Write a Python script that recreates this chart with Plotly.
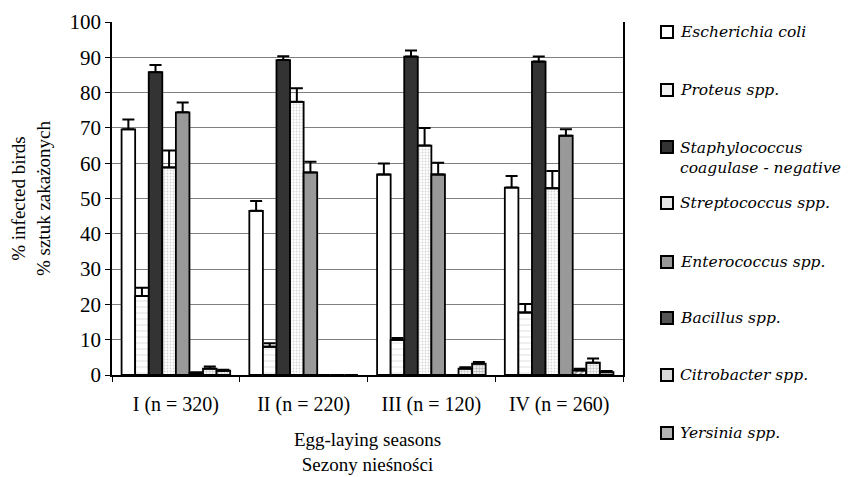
import plotly.graph_objects as go

seasons = ["I (n = 320)", "II (n = 220)", "III (n = 120)", "IV (n = 260)"]

species = [
    "Escherichia coli",
    "Proteus spp.",
    "Staphylococcus<br>coagulase - negative",
    "Streptococcus spp.",
    "Enterococcus spp.",
    "Bacillus spp.",
    "Citrobacter spp.",
    "Yersinia spp.",
]

ecoli = [69.6, 46.5, 56.8, 53.1]
ecoli_err = [2.8, 2.8, 3.1, 3.3]
proteus = [22.4, 8.0, 9.9, 17.7]
proteus_err = [2.3, 1.0, 0.6, 2.4]
staph = [85.8, 89.2, 90.2, 88.8]
staph_err = [2.0, 1.1, 1.7, 1.4]
strep = [58.8, 77.4, 65.0, 52.9]
strep_err = [4.8, 3.8, 5.0, 4.9]
entero = [74.4, 57.4, 56.8, 67.8]
entero_err = [2.8, 3.0, 3.3, 1.8]
bacillus = [0.6, 0.0, 0.0, 1.3]
bacillus_err = [0.2, 0.0, 0.0, 0.5]
citro = [1.8, 0.0, 1.8, 3.5]
citro_err = [0.6, 0.0, 0.4, 1.2]
yersinia = [1.2, 0.0, 3.2, 0.8]
yersinia_err = [0.3, 0.0, 0.5, 0.3]

values = [ecoli, proteus, staph, strep, entero, bacillus, citro, yersinia]
errors = [ecoli_err, proteus_err, staph_err, strep_err, entero_err,
          bacillus_err, citro_err, yersinia_err]

styles = [
    dict(color="white"),
    dict(color="white", pattern=dict(shape="-", fgcolor="#bbbbbb", size=6, solidity=0.15)),
    dict(color="#333333"),
    dict(color="white", pattern=dict(shape=".", fgcolor="#aaaaaa", size=3, solidity=0.3)),
    dict(color="#999999"),
    dict(color="white", pattern=dict(shape="/", fgcolor="#333333", size=4, solidity=0.5)),
    dict(color="white", pattern=dict(shape=".", fgcolor="#999999", size=3, solidity=0.5)),
    dict(color="white", pattern=dict(shape=".", fgcolor="#777777", size=3, solidity=0.6)),
]
# legend key fills (plain approximations of the bar patterns)
key_fills = ["white", "#f2f2f2", "#333333", "#e6e6e6", "#999999", "#555555", "#d8d8d8", "#b4b4b4"]

font = "Liberation Serif"
legend_font = "DejaVu Serif"
W, H = 844, 469
L, R, T, B = 104, 229, 14, 102
PW, PH = W - L - R, H - T - B
PAD = 8  # page offset of the figure


def paper_x(px):
    return (px - PAD - L) / PW


def paper_y(py):
    return 1 - (py - PAD - T) / PH


# legend layout (page pixels): text centre rows and key rows
legend_text_y = [32, 90, 157.5, 203, 262, 318, 375, 433]
legend_key_y = [32, 90, 147, 203, 262, 318, 375, 433]

fig = go.Figure()
for i, (name, vals, errs, st) in enumerate(zip(species, values, errors, styles)):
    marker = dict(line=dict(color="black", width=1.8), **st)
    fig.add_trace(go.Bar(
        x=seasons, y=vals, name=name.replace("<br>", " "),
        marker=marker, showlegend=False,
        error_y=dict(type="data", array=errs, arrayminus=[0] * len(errs),
                     symmetric=False, color="black", thickness=2, width=6),
    ))

for i, name in enumerate(species):
    ky = legend_key_y[i]
    fig.add_shape(type="rect", xref="paper", yref="paper",
                  x0=paper_x(661), x1=paper_x(673),
                  y0=paper_y(ky + 6), y1=paper_y(ky - 6),
                  fillcolor=key_fills[i], line=dict(color="black", width=2))
    fig.add_annotation(xref="paper", yref="paper", x=paper_x(678),
                       y=paper_y(legend_text_y[i]), xanchor="left", yanchor="middle",
                       align="left", showarrow=False,
                       text="<i>" + name.replace("<br>", "</i><br><i>") + "</i>",
                       font=dict(family=legend_font, size=15.5, color="black"))

fig.update_layout(
    width=W, height=H,
    margin=dict(l=L, r=R, t=T, b=B),
    paper_bgcolor="white", plot_bgcolor="white",
    barmode="group", bargap=0.15, bargroupgap=0,
    font=dict(family=font, size=19, color="black"),
    showlegend=False,
)
fig.update_xaxes(
    showline=True, linecolor="black", linewidth=1.5, automargin=False,
    ticks="outside", tickson="boundaries", ticklen=5, tickcolor="black",
    ticklabelstandoff=10,
    title=dict(text="Egg-laying seasons<br>Sezony nieśności", standoff=18,
               font=dict(size=19)),
    showgrid=False,
    tickfont=dict(size=20),
)
fig.update_yaxes(
    range=[0, 100], dtick=10, showline=True, linecolor="black", linewidth=1.5,
    mirror=True, automargin=False,
    ticks="outside", ticklen=5, tickcolor="black",
    showgrid=True, gridcolor="#808080", gridwidth=1,
    title=dict(text="% infected birds<br>% sztuk zakażonych", standoff=20,
               font=dict(size=19)),
    tickfont=dict(size=21), zeroline=False,
)

fig.write_html("out.html")
